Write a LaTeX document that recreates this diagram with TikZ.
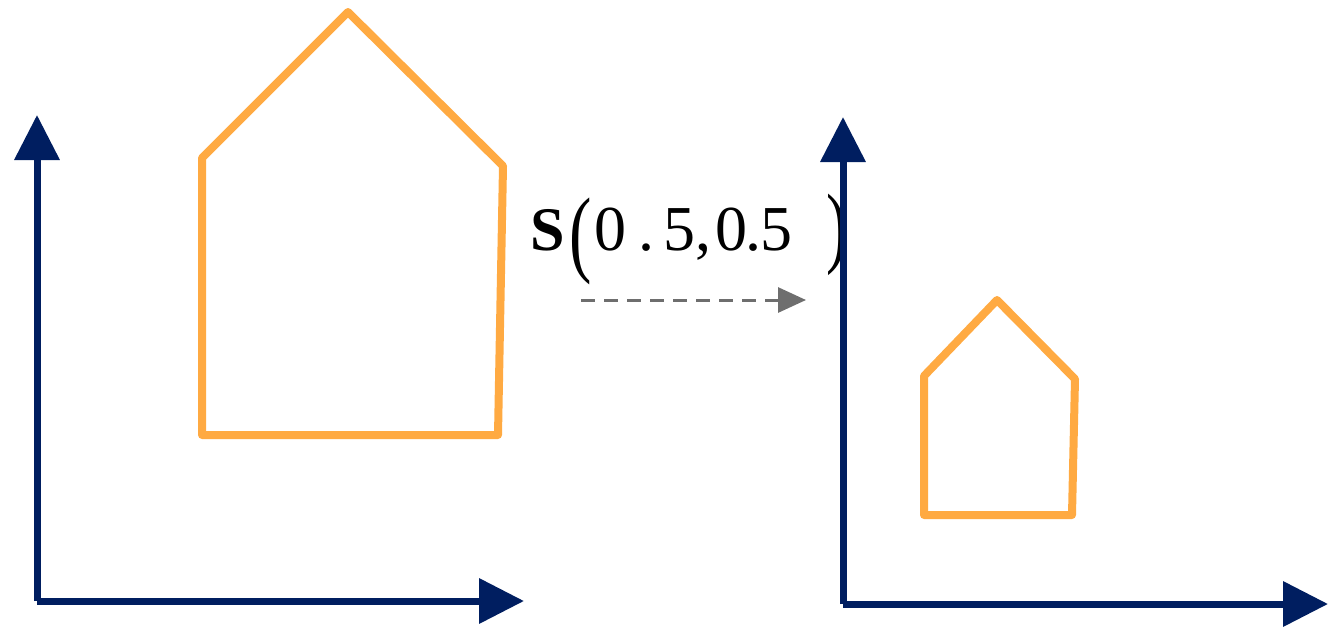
\documentclass[tikz,border=0pt]{standalone}
\usepackage{fontspec}
\setmainfont{Liberation Serif}
\usetikzlibrary{arrows.meta}
\definecolor{axisblue}{RGB}{0,30,96}
\definecolor{houseorange}{RGB}{255,170,66}
\definecolor{dashgrey}{RGB}{110,110,110}
\tikzset{
  axisline/.style={draw=axisblue, line width=7pt, -{Triangle[length=45pt,width=44pt]}},
  houseline/.style={draw=houseorange, line width=8pt, line join=round},
  maparrow/.style={draw=dashgrey, line width=3pt, dash pattern=on 14pt off 9pt, -{Triangle[length=28pt,width=25pt]}},
  lbl/.style={anchor=base west, inner sep=0pt, outer sep=0pt},
  glyph/.style={anchor=base, inner sep=0pt, outer sep=0pt, font=\fontsize{64}{64}\selectfont}
}
\begin{document}
\begin{tikzpicture}[x=1pt,y=-1pt]
\useasboundingbox (0,0) rectangle (1342,627);
% label (behind the axes)
\node[anchor=base, inner sep=0pt] (S) at (548,250) {\fontsize{62}{62}\selectfont\bfseries S};
\node[lbl] (lp) at (569,264) {\scalebox{0.7}[1]{\fontsize{96}{96}\selectfont (}};
\node[glyph] (d1) at (610,250) {0};
\node[glyph] (p1) at (646,250) {.};
\node[glyph] (d2) at (679,250) {5};
\node[glyph] (cm) at (703,250) {,};
\node[glyph] (d3) at (731,250) {0};
\node[glyph] (p2) at (753,250) {.};
\node[glyph] (d4) at (776,250) {5};
\node[lbl] (rp) at (826,256) {\scalebox{0.7}[1]{\fontsize{90}{90}\selectfont )}};
% left axes
\coordinate (LO) at (37,601);
\coordinate (LY) at (37,115);
\coordinate (LX) at (524,601);
\draw[axisline] (LO) -- (LY);
\draw[axisline] (LO) -- (LX);
% right axes
\coordinate (RO) at (843,604);
\coordinate (RY) at (843,117);
\coordinate (RX) at (1328,604);
\draw[axisline] (RO) -- (RY);
\draw[axisline] (RO) -- (RX);
% big house
\coordinate (h1) at (202,158);
\coordinate (h2) at (348,12);
\coordinate (h3) at (503,166);
\coordinate (h4) at (498,435);
\coordinate (h5) at (202,435);
\draw[houseline] (h1) -- (h2) -- (h3) -- (h4) -- (h5) -- cycle;
% small house
\coordinate (s1) at (924,376);
\coordinate (s2) at (997,300);
\coordinate (s3) at (1075,379);
\coordinate (s4) at (1072,515);
\coordinate (s5) at (924,515);
\draw[houseline] (s1) -- (s2) -- (s3) -- (s4) -- (s5) -- cycle;
% mapping arrow
\coordinate (ma) at (581,300);
\coordinate (mb) at (806,300);
\draw[maparrow] (ma) -- (mb);
\end{tikzpicture}
\end{document}
